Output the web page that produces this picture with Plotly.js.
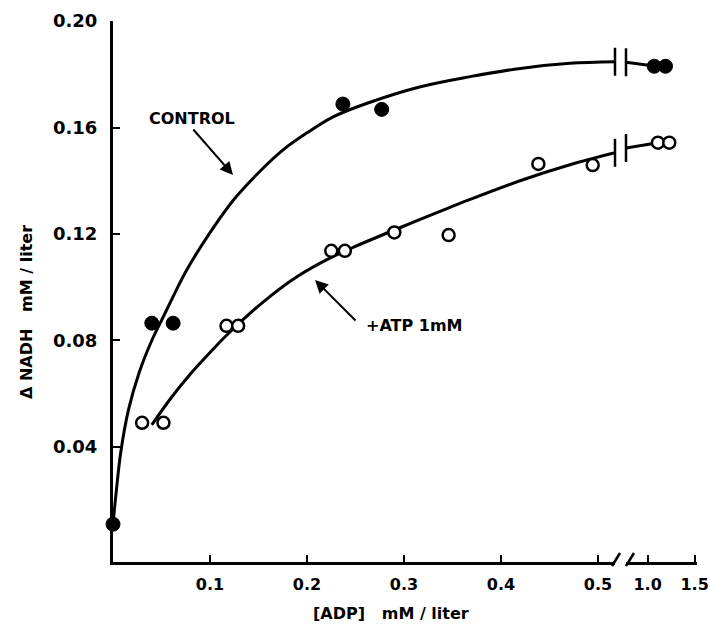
<!DOCTYPE html>
<html>
<head>
<meta charset="utf-8">
<script src="https://cdn.plot.ly/plotly-3.0.1.min.js"></script>
<style>html,body{margin:0;padding:0;background:#fff;}#chart{width:710px;height:628px;}</style>
</head>
<body>
<div id="chart"></div>
<script>
// ---- data ----
const controlX = [0, 0.040, 0.062, 0.237, 0.277];
const controlY = [0.011, 0.0865, 0.0865, 0.1688, 0.1668];
const controlHiX = [1.07, 1.19];
const controlHiY = [0.183, 0.183];

const atpX = [0.030, 0.052, 0.117, 0.129, 0.225, 0.239, 0.290, 0.346, 0.4385, 0.4945];
const atpY = [0.0491, 0.0491, 0.0855, 0.0855, 0.1137, 0.1137, 0.1206, 0.1196, 0.1463, 0.1459];
const atpHiX = [1.11, 1.23];
const atpHiY = [0.1543, 0.1543];

// fitted curves
const controlFitX = [0, 0.003, 0.008, 0.016, 0.027, 0.040, 0.052, 0.064, 0.076, 0.100, 0.124, 0.150, 0.175, 0.200, 0.227, 0.262, 0.317, 0.368, 0.420, 0.471, 0.5175];
const controlFitY = [0.011, 0.022, 0.038, 0.054, 0.068, 0.080, 0.089, 0.098, 0.1065, 0.1205, 0.1327, 0.143, 0.1515, 0.158, 0.164, 0.1691, 0.1753, 0.1791, 0.1822, 0.1841, 0.1847];
const controlFitHiX = [0.77, 1.07];
const controlFitHiY = [0.1845, 0.1831];

const atpFitX = [0.040, 0.060, 0.080, 0.100, 0.120, 0.155, 0.190, 0.224, 0.251, 0.290, 0.3474, 0.3646, 0.4196, 0.4711, 0.5175];
const atpFitY = [0.0483, 0.0585, 0.0675, 0.0755, 0.0830, 0.0945, 0.1040, 0.1110, 0.1155, 0.1215, 0.1300, 0.1325, 0.1400, 0.1460, 0.1505];
const atpFitHiX = [0.77, 1.11];
const atpFitHiY = [0.1523, 0.1543];

const xTickVals = [0.1, 0.2, 0.3, 0.4, 0.5];
const xTickText = ['0.1', '0.2', '0.3', '0.4', '0.5'];
const x2TickVals = [1.0, 1.5];
const x2TickText = ['1.0', '1.5'];
const yTickVals = [0.04, 0.08, 0.12, 0.16, 0.20];
const yTickText = ['0.04', '0.08', '0.12', '0.16', '0.20'];

// ---- drawing ----
const FONT = 'DejaVu Sans';
const lineStyle = {color: '#000', width: 3, shape: 'spline', smoothing: 1};
const filled = {symbol: 'circle', size: 14, color: '#000', line: {color: '#000', width: 1}};
const open = {symbol: 'circle', size: 12, color: '#fff', line: {color: '#000', width: 2.5}};
const bar = {symbol: 'line-ns', size: 20, line: {color: '#000', width: 2.5}};

const traces = [
  {x: controlFitX, y: controlFitY, mode: 'lines', line: lineStyle, xaxis: 'x', yaxis: 'y', cliponaxis: false},
  {x: controlFitHiX, y: controlFitHiY, mode: 'lines', line: {color: '#000', width: 3}, xaxis: 'x2', yaxis: 'y', cliponaxis: false},
  {x: atpFitX, y: atpFitY, mode: 'lines', line: lineStyle, xaxis: 'x', yaxis: 'y', cliponaxis: false},
  {x: atpFitHiX, y: atpFitHiY, mode: 'lines', line: {color: '#000', width: 3}, xaxis: 'x2', yaxis: 'y', cliponaxis: false},
  {x: [controlFitX[controlFitX.length - 1], atpFitX[atpFitX.length - 1]],
   y: [controlFitY[controlFitY.length - 1], atpFitY[atpFitY.length - 1]],
   mode: 'markers', marker: bar, xaxis: 'x', yaxis: 'y', cliponaxis: false},
  {x: [controlFitHiX[0], atpFitHiX[0]], y: [controlFitHiY[0], atpFitHiY[0]],
   mode: 'markers', marker: bar, xaxis: 'x2', yaxis: 'y', cliponaxis: false},
  {x: controlX, y: controlY, mode: 'markers', marker: filled, xaxis: 'x', yaxis: 'y', cliponaxis: false, name: 'Control'},
  {x: controlHiX, y: controlHiY, mode: 'markers', marker: filled, xaxis: 'x2', yaxis: 'y', cliponaxis: false, name: 'Control'},
  {x: atpX, y: atpY, mode: 'markers', marker: open, xaxis: 'x', yaxis: 'y', cliponaxis: false, name: '+ATP 1mM'},
  {x: atpHiX, y: atpHiY, mode: 'markers', marker: open, xaxis: 'x2', yaxis: 'y', cliponaxis: false, name: '+ATP 1mM'}
];

const W = 584, H = 541, L = 113, T = 21;
const px = v => (v - L) / W;
const py = v => (T + H - v) / H;

const axisCommon = {
  showline: true, linecolor: '#000', linewidth: 3,
  ticks: 'inside', ticklen: 7, tickwidth: 2, tickcolor: '#000',
  showgrid: false, zeroline: false, tickmode: 'array',
  tickfont: {family: FONT, size: 16, color: '#000', weight: 'bold'},
  ticklabelstandoff: 6, ticklabeloverflow: 'allow'
};

const layout = {
  width: 710, height: 628,
  margin: {l: L, r: 710 - L - W, t: T, b: 628 - T - H},
  paper_bgcolor: '#fff', plot_bgcolor: '#fff',
  showlegend: false,
  xaxis: Object.assign({}, axisCommon, {
    domain: [0, px(615)], range: [0, 0.5175], anchor: 'y',
    tickvals: xTickVals, ticktext: xTickText
  }),
  xaxis2: Object.assign({}, axisCommon, {
    domain: [px(626), 1], range: [0.77, 1.525], anchor: 'y',
    tickvals: x2TickVals, ticktext: x2TickText
  }),
  yaxis: Object.assign({}, axisCommon, {
    domain: [0, 1], range: [-0.0032, 0.2], anchor: 'x',
    tickvals: yTickVals, ticktext: yTickText,
    tickfont: {family: FONT, size: 18, color: '#000', weight: 'bold'},
    ticklabelstandoff: 9
  }),
  shapes: [
    {type: 'line', xref: 'paper', yref: 'paper', x0: px(612), y0: py(566), x1: px(620), y1: py(553), line: {color: '#000', width: 2.5}},
    {type: 'line', xref: 'paper', yref: 'paper', x0: px(626), y0: py(566), x1: px(634), y1: py(553), line: {color: '#000', width: 2.5}}
  ],
  annotations: [
    {xref: 'paper', yref: 'paper', x: px(391), y: py(613), text: '[ADP]   mM / liter', showarrow: false,
     xanchor: 'center', yanchor: 'middle', font: {family: FONT, size: 16, color: '#000', weight: 'bold'}},
    {xref: 'paper', yref: 'paper', x: px(27), y: py(312), text: 'Δ NADH   mM / liter', textangle: -90, showarrow: false,
     xanchor: 'center', yanchor: 'middle', font: {family: FONT, size: 16, color: '#000', weight: 'bold'}},
    {xref: 'paper', yref: 'paper', x: px(192), y: py(118), text: 'CONTROL', showarrow: false,
     xanchor: 'center', yanchor: 'middle', font: {family: FONT, size: 16, color: '#000', weight: 'bold'}},
    {xref: 'paper', yref: 'paper', x: px(414), y: py(325), text: '+ATP 1mM', showarrow: false,
     xanchor: 'center', yanchor: 'middle', font: {family: FONT, size: 16, color: '#000', weight: 'bold'}},
    {xref: 'paper', yref: 'paper', x: px(233), y: py(175), text: '', showarrow: true,
     ax: -41, ay: -47, arrowhead: 2, arrowsize: 1.3, arrowwidth: 2, arrowcolor: '#000'},
    {xref: 'paper', yref: 'paper', x: px(315), y: py(280), text: '', showarrow: true,
     ax: 42, ay: 42, arrowhead: 2, arrowsize: 1.3, arrowwidth: 2, arrowcolor: '#000'}
  ]
};

Plotly.newPlot('chart', traces, layout, {displayModeBar: false, staticPlot: true});
</script>
</body>
</html>
